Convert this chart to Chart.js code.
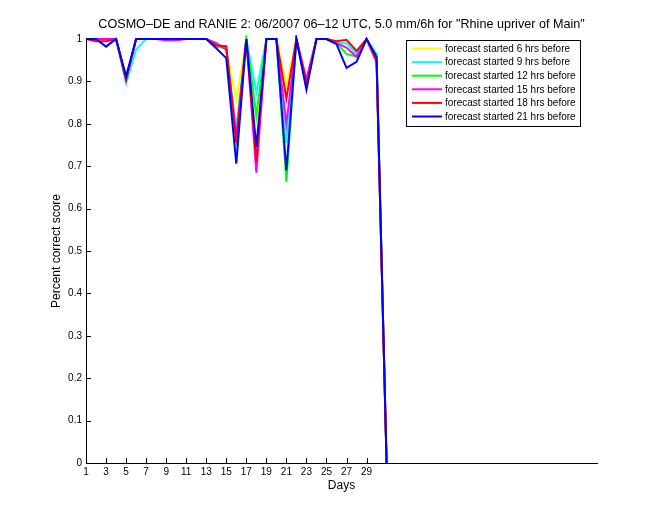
<!DOCTYPE html>
<html>
<head>
<meta charset="utf-8">
<title>COSMO-DE percent correct</title>
<script src="https://cdn.jsdelivr.net/npm/chart.js@4.4.0/dist/chart.umd.min.js"></script>
<style>
  html, body { margin: 0; padding: 0; background: #fff; }
  #wrap { width: 660px; height: 520px; }
</style>
</head>
<body>
<div id="wrap"><canvas id="pcChart" width="660" height="520"></canvas></div>
<script>
// days of June 2007 (index 31 is the drop to zero at the end)
const days = [1, 2, 3, 4, 5, 6, 7, 8, 9, 10, 11, 12, 13, 14, 15, 16, 17, 18, 19, 20, 21, 22, 23, 24, 25, 26, 27, 28, 29, 30, 31];
const xTickVals = [1, 3, 5, 7, 9, 11, 13, 15, 17, 19, 21, 23, 25, 27, 29];
const yTickVals = [0, 0.1, 0.2, 0.3, 0.4, 0.5, 0.6, 0.7, 0.8, 0.9, 1];

const seriesNames = [
  'forecast started 6 hrs before',
  'forecast started 9 hrs before',
  'forecast started 12 hrs before',
  'forecast started 15 hrs before',
  'forecast started 18 hrs before',
  'forecast started 21 hrs before'
];
const seriesColors = ['#ffff00', '#00ffff', '#00ff00', '#ff00ff', '#ff0000', '#0000ff'];

// percent correct score per lead time
const fc6h  = [1, 1, 1, 1, 0.905, 1, 1, 1, 1, 1, 1, 1, 1, 0.99, 0.975, 0.855, 1, 0.81, 1, 1, 0.89, 1, 0.9, 1, 1, 0.99, 0.995, 0.97, 1, 0.955, 0];
const fc9h  = [1, 1, 1, 1, 0.895, 0.975, 1, 1, 1, 1, 1, 1, 1, 0.99, 0.975, 0.79, 1, 0.875, 1, 1, 0.755, 1, 0.89, 1, 1, 0.99, 0.99, 0.965, 1, 0.965, 0];
const fc12h = [1, 1, 1, 1, 0.905, 1, 1, 1, 1, 1, 1, 1, 1, 0.982, 0.978, 0.76, 1, 0.82, 1, 1, 0.663, 1, 0.89, 1, 1, 0.99, 0.965, 0.958, 1, 0.955, 0];
const fc15h = [1, 1, 1, 1, 0.905, 1, 1, 1, 0.997, 0.997, 1, 1, 1, 0.99, 0.975, 0.77, 1, 0.685, 1, 1, 0.8, 1, 0.905, 1, 1, 0.99, 0.98, 0.958, 1, 0.945, 0];
const fc18h = [1, 0.995, 0.995, 1, 0.904, 1, 1, 1, 1, 1, 1, 1, 1, 0.985, 0.983, 0.755, 1, 0.71, 1, 1, 0.86, 1, 0.895, 1, 1, 0.995, 0.998, 0.972, 1, 0.95, 0];
const fc21h = [1, 1, 0.982, 1, 0.912, 1, 1, 1, 1, 1, 1, 1, 1, 0.978, 0.955, 0.706, 1, 0.745, 1, 1, 0.69, 1, 0.88, 1, 1, 0.988, 0.932, 0.946, 1, 0.958, 0];

const allSeries = [fc6h, fc9h, fc12h, fc15h, fc18h, fc21h];
const FONT = '"Liberation Sans", Arial, Helvetica, sans-serif';

// matlab style: tick marks point into the axes
const inwardTicks = {
  id: 'inwardTicks',
  afterDraw(chart) {
    const ctx = chart.ctx;
    const x = chart.scales.x, y = chart.scales.y;
    const a = chart.chartArea;
    ctx.save();
    ctx.strokeStyle = '#000';
    ctx.lineWidth = 1;
    ctx.beginPath();
    xTickVals.forEach(v => {
      const px = Math.round(x.getPixelForValue(v)) + 0.5;
      ctx.moveTo(px, a.bottom);
      ctx.lineTo(px, a.bottom - 5);
    });
    yTickVals.forEach(v => {
      const py = Math.round(y.getPixelForValue(v)) + 0.5;
      ctx.moveTo(a.left, py);
      ctx.lineTo(a.left + 5, py);
    });
    ctx.stroke();
    ctx.restore();
  }
};

// boxed legend in the upper right corner of the axes
const boxLegend = {
  id: 'boxLegend',
  afterDraw(chart) {
    const ctx = chart.ctx;
    const left = 406, top = 40, w = 174, h = 86;
    ctx.save();
    ctx.fillStyle = '#fff';
    ctx.fillRect(left, top, w, h);
    ctx.strokeStyle = '#000';
    ctx.lineWidth = 1;
    ctx.strokeRect(left + 0.5, top + 0.5, w, h);
    ctx.font = '10px ' + FONT;
    ctx.textBaseline = 'middle';
    ctx.fillStyle = '#000';
    chart.data.datasets.forEach((ds, i) => {
      const yy = top + 8.5 + i * 13.6;
      ctx.strokeStyle = ds.borderColor;
      ctx.lineWidth = 2;
      ctx.beginPath();
      ctx.moveTo(412, yy);
      ctx.lineTo(442, yy);
      ctx.stroke();
      ctx.fillText(ds.label, 445, yy + 0.5);
    });
    ctx.restore();
  }
};

const ctx = document.getElementById('pcChart').getContext('2d');

new Chart(ctx, {
  type: 'line',
  data: {
    labels: days,
    datasets: allSeries.map((vals, i) => ({
      label: seriesNames[i],
      data: days.map((d, k) => ({ x: d, y: vals[k] })),
      borderColor: seriesColors[i],
      backgroundColor: seriesColors[i],
      borderWidth: 2,
      pointRadius: 0,
      tension: 0,
      fill: false,
      clip: 4,
      order: allSeries.length - i
    }))
  },
  options: {
    responsive: false,
    animation: false,
    events: [],
    layout: { padding: { left: 0, right: 63, top: 0, bottom: 0 } },
    plugins: {
      legend: { display: false },
      tooltip: { enabled: false },
      title: {
        display: true,
        fullSize: false,
        text: 'COSMO\u2013DE and RANIE 2: 06/2007 06\u201312 UTC, 5.0 mm/6h for "Rhine upriver of Main"',
        color: '#000',
        font: { family: FONT, size: 12.6, weight: 'normal' },
        padding: { top: 17, bottom: 6.9 }
      }
    },
    scales: {
      x: {
        type: 'linear',
        min: 1,
        max: 52,
        afterBuildTicks(scale) { scale.ticks = xTickVals.map(v => ({ value: v })); },
        afterFit(scale) { scale.height = 57; },
        grid: { display: false, drawTicks: false },
        border: { display: true, color: '#000', width: 1 },
        ticks: { color: '#000', padding: 3, maxRotation: 0, autoSkip: false, font: { family: FONT, size: 10 } },
        title: { display: true, text: 'Days', color: '#000', font: { family: FONT, size: 12 }, padding: { top: 0, bottom: 26.8 } }
      },
      y: {
        min: 0,
        max: 1,
        afterBuildTicks(scale) { scale.ticks = yTickVals.map(v => ({ value: v })); },
        afterFit(scale) { scale.width = 86; },
        grid: { display: false, drawTicks: false },
        border: { display: true, color: '#000', width: 1 },
        ticks: {
          color: '#000', padding: 4, font: { family: FONT, size: 10 },
          callback: v => String(+v.toFixed(1))
        },
        title: { display: true, text: 'Percent correct score', color: '#000', font: { family: FONT, size: 12 }, padding: { top: 49.8, bottom: 0 } }
      }
    }
  },
  plugins: [inwardTicks, boxLegend]
});
</script>
</body>
</html>
